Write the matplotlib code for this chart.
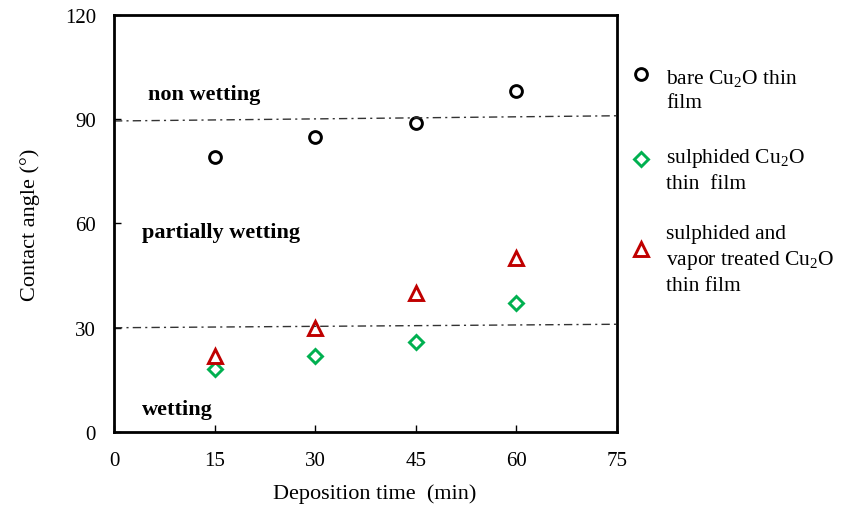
import matplotlib
matplotlib.use('Agg')
import matplotlib.pyplot as plt
from matplotlib.lines import Line2D

plt.rcParams['font.family'] = 'Liberation Serif'
plt.rcParams['mathtext.fontset'] = 'custom'
plt.rcParams['mathtext.rm'] = 'Liberation Serif'
plt.rcParams['mathtext.it'] = 'Liberation Serif:italic'

time_min = [15, 30, 45, 60]
bare = [79, 85, 89, 98]
sulphided = [18, 22, 26, 37]
sulph_vapor = [22, 30, 40, 50]

boundary_x = [0, 75]
upper_line = [89.5, 91]
lower_line = [30, 31]

x_ticks = [0, 15, 30, 45, 60, 75]
y_ticks = [0, 30, 60, 90, 120]

series = [
    (bare, 'o', 'black', 'bare Cu$_2$O thin\nfilm'),
    (sulphided, 'D', '#00B050', 'sulphided Cu$_2$O\nthin  film'),
    (sulph_vapor, '^', '#C00000', 'sulphided and\nvapor treated Cu$_2$O\nthin film'),
]
msizes = {'o': 8.5, 'D': 7, '^': 9.5}

fig = plt.figure(figsize=(8.43, 5.06), dpi=100)
ax = fig.add_axes([0.1352, 0.1443, 0.5967, 0.8241])

for vals, m, c, lab in series:
    ax.plot(time_min, vals, linestyle='none', marker=m, markersize=msizes[m],
            markerfacecolor='white', markeredgecolor=c, markeredgewidth=2.1)

for yy in (upper_line, lower_line):
    ax.plot(boundary_x, yy, color='#333333', linewidth=1, dashes=(6, 3, 1.5, 3))

ax.text(5.0, 97.3, 'non wetting', fontsize=16, fontweight='bold', va='center', ha='left')
ax.text(4.2, 57.5, 'partially wetting', fontsize=16, fontweight='bold', va='center', ha='left')
ax.text(4.2, 6.6, 'wetting', fontsize=16, fontweight='bold', va='center', ha='left')

ax.set_xlim(0, 75)
ax.set_ylim(0, 120)
ax.set_xticks(x_ticks)
ax.set_yticks(y_ticks)
ax.tick_params(direction='in', length=5, width=1, labelsize=15)
ax.tick_params(axis='x', pad=14)
ax.tick_params(axis='y', pad=13)
for s in ax.spines.values():
    s.set_linewidth(2)

ax.set_xlabel('Deposition time  (min)', fontsize=16)
ax.set_ylabel('Contact angle (°)', fontsize=16)
ax.xaxis.set_label_coords(0.519, -0.122)
ax.yaxis.set_label_coords(-0.148, 0.5)

# manual legend to the right of the axes
W, H = 843, 506
marker_y = [75, 160, 250]
text_top = [68, 147, 225]
for (vals, m, c, lab), my, ty in zip(series, marker_y, text_top):
    fig.add_artist(Line2D([641 / W], [1 - my / H], transform=fig.transFigure,
                          marker=m, markersize=msizes[m], markerfacecolor='white',
                          markeredgecolor=c, markeredgewidth=2.1, linestyle='none'))
    fig.text(666 / W, 1 - ty / H, lab, fontsize=15.5, va='top', ha='left', linespacing=1.33)

fig.savefig('out.png', dpi=100)
